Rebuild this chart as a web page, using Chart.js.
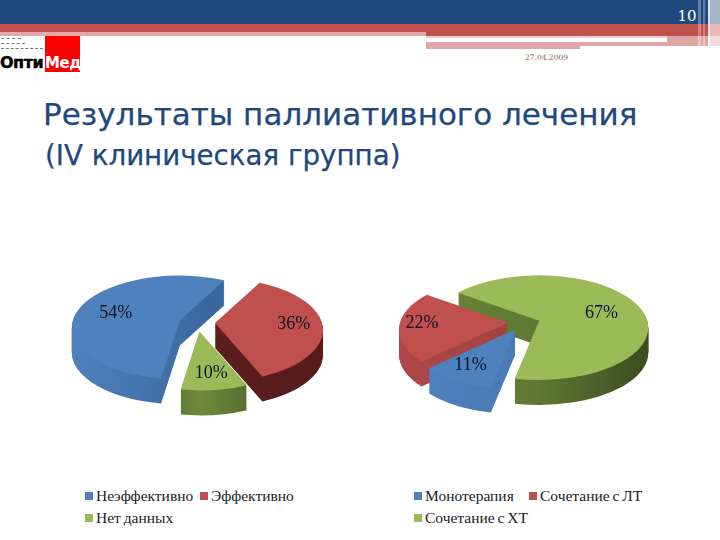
<!DOCTYPE html>
<html>
<head>
<meta charset="utf-8">
<script src="https://cdn.jsdelivr.net/npm/chart.js@4"></script>
<style>
html, body { margin: 0; padding: 0; background: #fff; }
#page { position: relative; width: 720px; height: 540px; overflow: hidden; }
#page div, #page canvas { position: absolute; }
.title { color: #1f497d; font-family: "DejaVu Sans", sans-serif; white-space: nowrap; -webkit-text-stroke: .25px #1f497d; }
.legendText { color: #222; font: 15.5px "Liberation Serif", serif; word-spacing: -1px; white-space: nowrap; }
</style>
</head>
<body>
<div id="page">
  <!-- header bars -->
  <div style="left:0;top:0;width:720px;height:24px;background:#1f497d"></div>
  <div style="left:0;top:24px;width:720px;height:12px;background:#c0504d"></div>
  <div style="left:0;top:32px;width:426px;height:4px;background:#e4a9a8"></div>
  <div style="left:426px;top:36px;width:294px;height:10px;background:#e0a6a5"></div>
  <div style="left:426px;top:46px;width:154px;height:3px;background:#e0a6a5"></div>
  <div style="left:426px;top:38px;width:241px;height:4px;background:#fff"></div>
  <div style="left:426px;top:36px;width:241px;height:2px;background:#efd0cf"></div>
  <div style="left:698px;top:0;width:3px;height:46px;background:rgba(255,255,255,.3)"></div>
  <div style="left:703px;top:0;width:2px;height:46px;background:rgba(255,255,255,.3)"></div>
  <div style="left:708px;top:0;width:2px;height:48px;background:rgba(255,255,255,.85)"></div>
  <div style="left:710px;top:0;width:10px;height:48px;background:rgba(255,255,255,.6)"></div>
  <div style="left:677px;top:7px;width:20px;text-align:center;color:#fff;font:15px 'DejaVu Serif',serif">10</div>
  <div style="left:525px;top:53px;color:#8a5a5a;font:7.5px 'DejaVu Serif',serif">27.04.2009</div>
  <!-- logo -->
  <div style="left:1px;top:38px;width:20px;height:0;border-top:1px dashed #777"></div>
  <div style="left:1px;top:43px;width:24px;height:0;border-top:1px dashed #777"></div>
  <div style="left:1px;top:48px;width:42px;height:0;border-top:1px dashed #777"></div>
  <div style="left:45px;top:36px;width:35px;height:36px;background:#f00"></div>
  <div style="left:0;top:53px;color:#000;font:bold 16px 'DejaVu Sans',sans-serif;letter-spacing:-.5px;-webkit-text-stroke:.4px #000">Опти</div>
  <div style="left:45px;top:54px;color:#fff;font:bold 15px 'DejaVu Sans',sans-serif;letter-spacing:-.4px">Мед</div>
  <!-- titles -->
  <div class="title" style="left:43px;top:96px;font-size:31px">Результаты паллиативного лечения</div>
  <div class="title" style="left:45px;top:139px;font-size:27.7px">(IV клиническая группа)</div>
  <canvas id="chartLeft" width="274" height="200" style="left:60px;top:223px"></canvas>
  <canvas id="chartRight" width="270" height="200" style="left:389px;top:223px"></canvas>
</div>
<script>
const categoriesLeft = ['Неэффективно', 'Эффективно', 'Нет данных'];
const valuesLeft = [54, 36, 10];
const categoriesRight = ['Монотерапия', 'Сочетание с ЛТ', 'Сочетание с ХТ'];
const valuesRight = [11, 22, 67];

const sliceColors = ['#4f81bd', '#c0504d', '#9bbb59'];

// outline of one slice on the tilted plane, around its pulled-out tip
function slicePath(ctx, arc, tipX, tipY, o) {
    ctx.beginPath();
    ctx.moveTo(tipX, tipY);
    ctx.ellipse(tipX, tipY + o.lift, arc.outerRadius, arc.outerRadius * o.squash, 0, arc.startAngle, arc.endAngle);
    ctx.closePath();
}

function sliceTip(arc, o) {
    const mid = (arc.startAngle + arc.endAngle) / 2;
    return {
        mid: mid,
        x: arc.x + Math.cos(mid) * o.explode,
        y: arc.y + Math.sin(mid) * o.explode * o.squash
    };
}

// fake 3d: walls first, then the slice top, back slices before front ones
const tiltPlugin = {
    id: 'tilt',
    beforeDatasetDraw(chart, args, o) {
        const ctx = chart.ctx;
        const arcs = chart.getDatasetMeta(0).data;
        o.order.forEach(i => {
            const arc = arcs[i];
            const tip = sliceTip(arc, o);
            const grad = ctx.createLinearGradient(tip.x - arc.outerRadius, 0, tip.x + arc.outerRadius, 0);
            o.walls[i].forEach((c, n) => grad.addColorStop(n / (o.walls[i].length - 1), c));
            ctx.fillStyle = grad;
            for (let d = o.depth; d > 0; d--) {
                slicePath(ctx, arc, tip.x, tip.y + d, o);
                ctx.fill();
            }
            ctx.fillStyle = arc.options.backgroundColor;
            slicePath(ctx, arc, tip.x, tip.y, o);
            ctx.fill();
        });
        return false;
    },
    afterDraw(chart, args, o) {
        const ctx = chart.ctx;
        const values = chart.data.datasets[0].data;
        chart.getDatasetMeta(0).data.forEach((arc, i) => {
            const tip = sliceTip(arc, o);
            const r = arc.outerRadius * o.labelAt[i];
            ctx.save();
            ctx.fillStyle = '#0c1428';
            ctx.font = '18px "Liberation Serif", serif';
            ctx.textAlign = 'center';
            ctx.textBaseline = 'middle';
            ctx.fillText(values[i] + '%', tip.x + Math.cos(tip.mid) * r, tip.y + 2 + Math.sin(tip.mid) * r * o.squash);
            ctx.restore();
        });
    }
};

function makePie(id, categories, values, o) {
    return new Chart(document.getElementById(id), {
        type: 'pie',
        data: {
            labels: categories,
            datasets: [{
                data: values,
                backgroundColor: sliceColors,
                borderWidth: 0,
                radius: o.radius
            }]
        },
        plugins: [tiltPlugin],
        options: {
            responsive: false,
            animation: false,
            rotation: o.rotation,
            plugins: {
                tooltip: { enabled: false },
                legend: { display: false },
                tilt: o
            }
        }
    });
}

// html legend, items come from the chart
function addLegend(chart, slots) {
    const page = document.getElementById('page');
    const items = Chart.overrides.pie.plugins.legend.labels.generateLabels(chart);
    items.forEach((item, i) => {
        const box = document.createElement('div');
        box.style.cssText = 'left:' + slots[i][0] + 'px;top:' + (slots[i][1] - 4) + 'px;width:8px;height:8px;background:' + item.fillStyle;
        page.appendChild(box);
        const text = document.createElement('div');
        text.className = 'legendText';
        text.style.left = (slots[i][0] + 11) + 'px';
        text.style.top = (slots[i][1] - 9) + 'px';
        text.textContent = item.text;
        page.appendChild(text);
    });
}

const pieLeft = makePie('chartLeft', categoriesLeft, valuesLeft, {
    rotation: 190, radius: 108, squash: 0.48, lift: 7, explode: 18, depth: 25,
    order: [0, 1, 2],
    labelAt: [0.62, 0.73, 0.78],
    walls: [['#4f81bd', '#3f6da3', '#2c5a90'], ['#5e2220', '#5a1f1e', '#551c1b'], ['#4c5f28', '#4c5f28', '#6f8a3b', '#566b2e', '#4c5f28']]
});
const pieRight = makePie('chartRight', categoriesRight, valuesRight, {
    rotation: 193, radius: 109, squash: 0.48, lift: 7, explode: 16, depth: 25,
    order: [2, 1, 0],
    labelAt: [0.76, 0.79, 0.6],
    walls: [['#4f81bd', '#4a7ab3', '#2f5a8e'], ['#b0474a', '#a04341', '#7a2c2a'], ['#6a853a', '#5f7833', '#3c4c1f']]
});

addLegend(pieLeft, [[85, 496], [200, 496], [85, 518]]);
addLegend(pieRight, [[414, 496], [529, 496], [414, 518]]);
</script>
</body>
</html>
